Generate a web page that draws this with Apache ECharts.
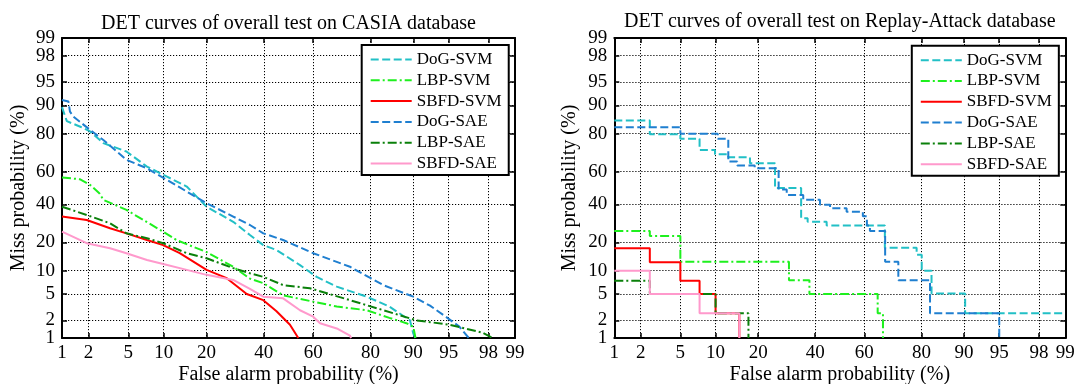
<!DOCTYPE html>
<html>
<head>
<meta charset="utf-8">
<script src="https://cdn.jsdelivr.net/npm/echarts@6/dist/echarts.min.js"></script>
<style>
html, body { margin: 0; padding: 0; background: #fff; }
#chartDet { width: 1076px; height: 384px; }
</style>
</head>
<body>
<div id="chartDet"></div>
<script>
// tick labels (%), same on both axes of both plots
var tickLabels = [1, 2, 5, 10, 20, 40, 60, 80, 90, 95, 98, 99];
var seriesNames = ['DoG-SVM', 'LBP-SVM', 'SBFD-SVM', 'DoG-SAE', 'LBP-SAE', 'SBFD-SAE'];

// CASIA curves, [false alarm %, miss %]
var casiaDogSvm = [[1, 89.5], [1.14, 85], [1.6, 83], [2.08, 81], [2.86, 75.7], [4.8, 71.4], [7.3, 63], [10.6, 57],
	[14.8, 50.9], [20, 38.6], [28.5, 30], [34.6, 23.3], [39.8, 18.8], [45.1, 16.8], [54.7, 11.6], [61.4, 8.4],
	[69, 6.3], [78.9, 4.6], [85, 3.3], [89.4, 2], [90, 1.2], [90.4, 1]];
var casiaLbpSvm = [[1, 56.5], [1.6, 55.4], [2.08, 51.9], [2.6, 46.8], [2.86, 42.7], [4.8, 36.7], [6.8, 31],
	[9.9, 24.9], [12.5, 21], [20, 16], [28.5, 11.1], [34.6, 8], [39.8, 7], [47.8, 4.8], [60, 3.9], [69, 3.3],
	[78.9, 2.9], [85, 2.2], [88.7, 1.8], [90, 1.57], [90.4, 1]];
var casiaSbfdSvm = [[1, 32.9], [1.91, 31], [3.34, 26.6], [4.8, 24.1], [7.3, 21], [9.9, 18.8], [13.2, 15.6],
	[20, 10.2], [26.3, 8.1], [33.4, 5], [39.8, 4.1], [45.1, 2.8], [50.6, 1.7], [54, 1]];
var casiaDogSae = [[1, 91.4], [1.19, 91], [1.24, 88.2], [1.36, 86.6], [2.08, 81.6], [2.86, 77.2], [4.8, 66.9],
	[7.3, 62], [10.6, 55], [14.8, 47.8], [20, 40.7], [28.5, 32.9], [34.6, 28.3], [39.8, 24.1], [47.8, 21],
	[60, 15.6], [73.6, 11.1], [83.5, 6.6], [90, 4.6], [92.7, 3.4], [94.5, 2.4], [96, 1.6], [96.8, 1]];
var casiaLbpSae = [[1, 38.6], [1.91, 33.8], [3.34, 29.2], [4.8, 24.1], [7.3, 21.8], [9.9, 19.6], [14.8, 15.6],
	[20, 13.8], [28.5, 10.7], [34.6, 9.3], [39.8, 8.4], [47.8, 6.6], [58.7, 6], [73.6, 4.1], [83.5, 2.9],
	[90.6, 2], [95.1, 1.7], [97.7, 1.24], [98.2, 1]];
var casiaSbfdSae = [[1, 24.9], [1.91, 19.6], [3.34, 17.5], [4.8, 15.6], [7.3, 13.2], [9.9, 11.9], [14.8, 10.2],
	[20, 8.9], [28.5, 7.7], [34.6, 5.9], [39.8, 4.6], [47.8, 4.35], [54.7, 2.9], [60, 2.3], [62.7, 1.8],
	[69, 1.47], [73.6, 1.1], [74, 1]];

// Replay-Attack curves (staircase), [false alarm % where level starts, miss %]
var replayDogSvm = [[1, 85.2], [2.5, 79.8], [5, 77.7], [7.4, 72.2], [9.9, 70], [12.5, 68.3], [17.7, 65],
	[25.2, 50], [34.5, 32], [37, 30], [44.6, 28], [67.9, 17.7], [78.6, 15], [80.1, 10], [82.8, 5.1],
	[90.2, 2.6], [99, 2.6]];
var replayLbpSvm = [[1, 25.3], [2.5, 22.8], [5, 12.6], [30, 7.6], [37.7, 5], [65.2, 2.6], [67.2, 1]];
var replaySbfdSvm = [[1, 17.5], [2.5, 12.5], [5, 7.5], [7.4, 5], [10, 2.6], [15, 1]];
var replayDogSae = [[1, 82.7], [5, 80], [10.4, 77.7], [12.5, 65.9], [14.5, 63.6], [19, 62], [26.4, 49.1],
	[29.2, 45.7], [35.3, 42.7], [41.9, 39.7], [46, 37.7], [52.8, 35.7], [59.4, 33], [61, 28], [62.2, 25.3],
	[68, 12.6], [72.7, 7.6], [82.4, 2.6], [95, 1]];
var replayLbpSae = [[1, 7.5], [2.5, 5], [10, 2.6], [17.3, 1]];
var replaySbfdSae = [[1, 10], [2.5, 5], [7.4, 2.6], [15, 1]];

var seriesColors = ['#22c0c6', '#1ef01e', '#ff0000', '#1f7fd0', '#0a800a', '#ff99cc'];
var seriesDash = [[8, 3.5], [9, 3, 2, 3], 'solid', [8, 3.5], [9, 3, 2, 3], 'solid'];
var serif = 'Liberation Serif';

// normal deviate (inverse normal cdf), Acklam
function probit(p) {
	var a = [-3.969683028665376e+01, 2.209460984245205e+02, -2.759285104469687e+02, 1.383577518672690e+02, -3.066479806614716e+01, 2.506628277459239e+00];
	var b = [-5.447609879822406e+01, 1.615858368580409e+02, -1.556989798598866e+02, 6.680131188771972e+01, -1.328068155288572e+01];
	var c = [-7.784894002430293e-03, -3.223964580411365e-01, -2.400758277161838e+00, -2.549732539343734e+00, 4.374664141464968e+00, 2.938163982698783e+00];
	var d = [7.784695709041462e-03, 3.224671290700398e-01, 2.445134137142996e+00, 3.754408661907416e+00];
	var plow = 0.02425, q, r;
	if (p < plow) {
		q = Math.sqrt(-2 * Math.log(p));
		return (((((c[0] * q + c[1]) * q + c[2]) * q + c[3]) * q + c[4]) * q + c[5]) / ((((d[0] * q + d[1]) * q + d[2]) * q + d[3]) * q + 1);
	}
	if (p > 1 - plow) {
		q = Math.sqrt(-2 * Math.log(1 - p));
		return -(((((c[0] * q + c[1]) * q + c[2]) * q + c[3]) * q + c[4]) * q + c[5]) / ((((d[0] * q + d[1]) * q + d[2]) * q + d[3]) * q + 1);
	}
	q = p - 0.5;
	r = q * q;
	return (((((a[0] * r + a[1]) * r + a[2]) * r + a[3]) * r + a[4]) * r + a[5]) * q / (((((b[0] * r + b[1]) * r + b[2]) * r + b[3]) * r + b[4]) * r + 1);
}

var tickPos = tickLabels.map(function(v) { return probit(v / 100); });
var zMin = tickPos[0], zMax = tickPos[tickPos.length - 1];

function tickText(v) {
	for (var i = 0; i < tickPos.length; i++) {
		if (Math.abs(tickPos[i] - v) < 1e-6) return String(tickLabels[i]);
	}
	return '';
}

var boxLine = { show: true, onZero: false, lineStyle: { color: '#000', width: 2 } };
var inTicks = { show: true, inside: true, length: 5, customValues: tickPos, lineStyle: { color: '#000', width: 1.5 } };
var labelText = { formatter: tickText, fontFamily: serif, fontSize: 19, color: '#000', showMinLabel: true, showMaxLabel: true };

// main axis with labels, grid lines and name
function mainAxis(gi, pos, name, nameGap, margin, labelValues) {
	return {
		gridIndex: gi, type: 'value', position: pos, min: zMin, max: zMax,
		name: name, nameLocation: 'middle', nameGap: nameGap, nameMoveOverlap: false,
		nameTextStyle: { fontFamily: serif, fontSize: 20, color: '#000' },
		axisLine: boxLine, axisTick: inTicks,
		axisLabel: echarts.util.extend({ customValues: labelValues, margin: margin }, labelText),
		splitLine: { show: true, lineStyle: { color: '#000', width: 1, type: [1.2, 1.8] } }
	};
}

// opposite side of the box: ticks only
function boxAxis(gi, pos) {
	return {
		gridIndex: gi, type: 'value', position: pos, min: zMin, max: zMax,
		axisLine: boxLine, axisTick: inTicks, axisLabel: { show: false }, splitLine: { show: false }
	};
}

// end labels (1 and 99) of a y axis, kept apart so they are not dropped as overlapping
function endLabelAxis(gi, margin) {
	return {
		gridIndex: gi, type: 'value', position: 'left', min: zMin, max: zMax,
		axisLine: { show: false, onZero: false }, axisTick: { show: false }, splitLine: { show: false },
		axisLabel: echarts.util.extend({ customValues: [zMin, zMax], margin: margin }, labelText)
	};
}

function legendAt(left, top) {
	return {
		data: seriesNames, orient: 'vertical', left: left, top: top,
		itemWidth: 41, itemHeight: 12, itemGap: 3.8, padding: [6, 7, 3, 8],
		backgroundColor: '#fff', borderColor: '#000', borderWidth: 2, borderRadius: 0,
		textStyle: { fontFamily: serif, fontSize: 17, color: '#000', lineHeight: 17 },
		itemStyle: { opacity: 0 }, selectedMode: false
	};
}

function lineSeries(idx, pts, gi, step) {
	return {
		name: seriesNames[idx], type: 'line', xAxisIndex: gi * 2, yAxisIndex: gi * 2,
		symbol: 'none', step: step, animation: false,
		data: pts.map(function(p) { return [probit(p[0] / 100), probit(p[1] / 100)]; }),
		lineStyle: { color: seriesColors[idx], width: 2, type: seriesDash[idx] },
		itemStyle: { color: seriesColors[idx] }
	};
}

var casia = [casiaDogSvm, casiaLbpSvm, casiaSbfdSvm, casiaDogSae, casiaLbpSae, casiaSbfdSae];
var replay = [replayDogSvm, replayLbpSvm, replaySbfdSvm, replayDogSae, replayLbpSae, replaySbfdSae];
var series = [];
casia.forEach(function(pts, i) { series.push(lineSeries(i, pts, 0, false)); });
replay.forEach(function(pts, i) { series.push(lineSeries(i, pts, 1, 'end')); });

var innerTicks = tickPos.slice(1, -1);
var titleStyle = { fontFamily: serif, fontSize: 20, fontWeight: 'normal', color: '#000' };
var option = {
	backgroundColor: '#fff',
	animation: false,
	title: [
		{ text: 'DET curves of overall test on CASIA database', left: 283.5, top: 9, textAlign: 'center', textStyle: titleStyle },
		{ text: 'DET curves of overall test on Replay-Attack database', left: 834.8, top: 6.5, textAlign: 'center', textStyle: titleStyle }
	],
	legend: [legendAt(361.7, 45), legendAt(911.8, 45.7)],
	grid: [
		{ left: 62, top: 38, width: 453, height: 300, outerBoundsMode: 'none' },
		{ left: 614.3, top: 38, width: 451, height: 300, outerBoundsMode: 'none' }
	],
	xAxis: [
		mainAxis(0, 'bottom', 'False alarm probability (%)', 27, 6, tickPos), boxAxis(0, 'top'),
		mainAxis(1, 'bottom', 'False alarm probability (%)', 27, 6, tickPos), boxAxis(1, 'top')
	],
	yAxis: [
		mainAxis(0, 'left', 'Miss probability (%)', 33, 7, innerTicks), boxAxis(0, 'right'),
		mainAxis(1, 'left', 'Miss probability (%)', 35, 7, innerTicks), boxAxis(1, 'right'),
		endLabelAxis(0, 7), endLabelAxis(1, 7)
	],
	series: series
};

echarts.init(document.getElementById('chartDet')).setOption(option);
</script>
</body>
</html>
